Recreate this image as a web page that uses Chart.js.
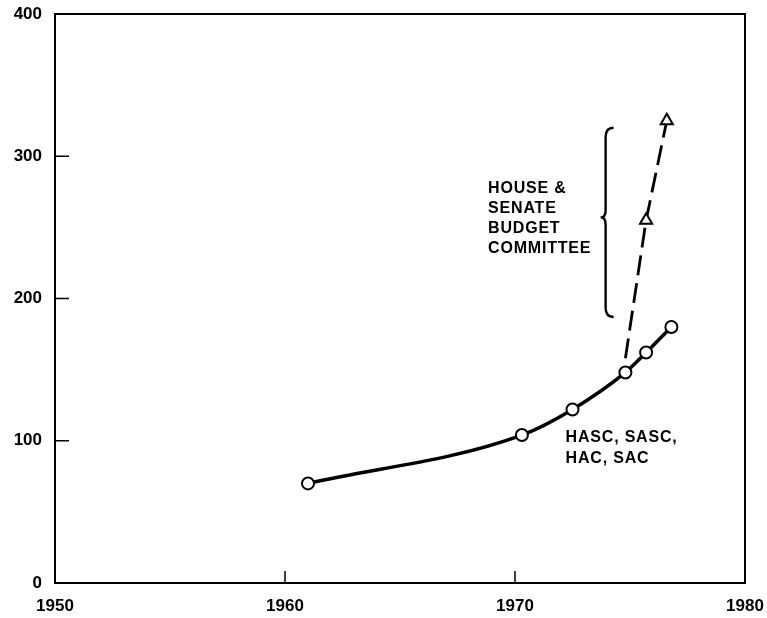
<!DOCTYPE html>
<html>
<head>
<meta charset="utf-8">
<script src="https://cdn.jsdelivr.net/npm/chart.js@4/dist/chart.umd.min.js"></script>
<style>
	html, body { margin: 0; padding: 0; background: #fff; }
	#wrap { width: 767px; height: 618px; }
</style>
</head>
<body>
<div id="wrap"><canvas id="myChart"></canvas></div>
<script>
// data
var yearTicks = [1950, 1960, 1970, 1980];
var valueTicks = [0, 100, 200, 300, 400];
var committeeYears = [1961, 1970.3, 1972.5, 1974.8, 1975.7, 1976.8];
var committeeValues = [70, 104, 122, 148, 162, 180];
var budgetYears = [1974.8, 1975.7, 1976.6];
var budgetValues = [158, 255, 325];
var budgetLabel = ["HOUSE &", "SENATE", "BUDGET", "COMMITTEE"];
var committeeLabel = ["HASC, SASC,", "HAC, SAC"];

function toPoints(xs, ys) {
	var pts = [];
	for (var i = 0; i < xs.length; i++) pts.push({x: xs[i], y: ys[i]});
	return pts;
}

var FONT = '"Liberation Sans", Arial, sans-serif';

// frame, inner ticks, brace and text notes
var decor = {
	id: 'decor',
	afterDraw: function(chart) {
		var c = chart.ctx, a = chart.chartArea;
		var sx = chart.scales.x, sy = chart.scales.y;
		c.save();
		c.strokeStyle = '#000';
		c.lineWidth = 2;
		c.strokeRect(a.left, a.top, a.right - a.left, a.bottom - a.top);
		c.lineWidth = 1.5;
		c.beginPath();
		[1960, 1970].forEach(function(v) {
			var px = sx.getPixelForValue(v);
			c.moveTo(px, a.bottom); c.lineTo(px, a.bottom - 12);
		});
		[100, 200, 300].forEach(function(v) {
			var py = sy.getPixelForValue(v);
			c.moveTo(a.left, py); c.lineTo(a.left + 14, py);
		});
		c.stroke();

		// brace
		var bx = sx.getPixelForValue(1973.94);
		var top = sy.getPixelForValue(320), bot = sy.getPixelForValue(187), mid = sy.getPixelForValue(257);
		c.lineWidth = 2.4;
		c.beginPath();
		c.moveTo(bx + 8, top);
		c.quadraticCurveTo(bx, top, bx, top + 9);
		c.lineTo(bx, mid - 7);
		c.quadraticCurveTo(bx, mid, bx - 5, mid);
		c.quadraticCurveTo(bx, mid, bx, mid + 7);
		c.lineTo(bx, bot - 9);
		c.quadraticCurveTo(bx, bot, bx + 8, bot);
		c.stroke();

		c.fillStyle = '#000';
		c.font = 'bold 16px ' + FONT;
		c.letterSpacing = '0.8px';
		c.textBaseline = 'middle';
		var tx = sx.getPixelForValue(1968.83), ty = sy.getPixelForValue(277.5);
		budgetLabel.forEach(function(t, i) { c.fillText(t, tx, ty + i * 20); });
		var hx = sx.getPixelForValue(1972.2), hy = sy.getPixelForValue(102);
		committeeLabel.forEach(function(t, i) { c.fillText(t, hx, hy + i * 21); });
		c.restore();
	}
};

var ctx = document.getElementById("myChart").getContext('2d');
var myChart = new Chart(ctx, {
	type: 'line',
	data: {
		datasets: [{
			label: 'HASC, SASC, HAC, SAC',
			data: toPoints(committeeYears, committeeValues),
			borderColor: '#000',
			borderWidth: 3.5,
			cubicInterpolationMode: 'monotone',
			pointStyle: 'circle',
			pointRadius: 6,
			pointBorderWidth: 2,
			pointBackgroundColor: '#fff',
			pointBorderColor: '#000'
		}, {
			label: 'House & Senate Budget Committee',
			data: toPoints(budgetYears, budgetValues),
			borderColor: '#000',
			borderWidth: 2.8,
			borderDash: [20, 8],
			tension: 0,
			pointStyle: 'triangle',
			pointRadius: [0, 7, 7],
			pointBorderWidth: 2,
			pointBackgroundColor: '#fff',
			pointBorderColor: '#000'
		}]
	},
	options: {
		responsive: true,
		maintainAspectRatio: false,
		animation: false,
		layout: { padding: { top: 0, left: 0, right: 0, bottom: 3 } },
		plugins: {
			legend: { display: false },
			tooltip: { enabled: false }
		},
		scales: {
			x: {
				type: 'linear',
				min: 1950, max: 1980,
				afterBuildTicks: function(s) { s.ticks = yearTicks.map(function(v) { return {value: v}; }); },
				afterFit: function(s) { s.height = 32; s.paddingLeft = 0; s.paddingRight = 22; },
				ticks: {
					color: '#000',
					padding: 15,
					maxRotation: 0,
					font: { family: FONT, size: 17, weight: 'bold', lineHeight: 1 },
					callback: function(v) { return String(v); }
				},
				grid: { display: false, drawTicks: false },
				border: { display: false }
			},
			y: {
				min: 0, max: 400,
				afterBuildTicks: function(s) { s.ticks = valueTicks.map(function(v) { return {value: v}; }); },
				afterFit: function(s) { s.width = 55; s.paddingTop = 14; s.paddingBottom = 0; },
				ticks: {
					color: '#000',
					padding: 13,
					font: { family: FONT, size: 17, weight: 'bold', lineHeight: 1 }
				},
				grid: { display: false, drawTicks: false },
				border: { display: false }
			}
		}
	},
	plugins: [decor]
});
</script>
</body>
</html>
